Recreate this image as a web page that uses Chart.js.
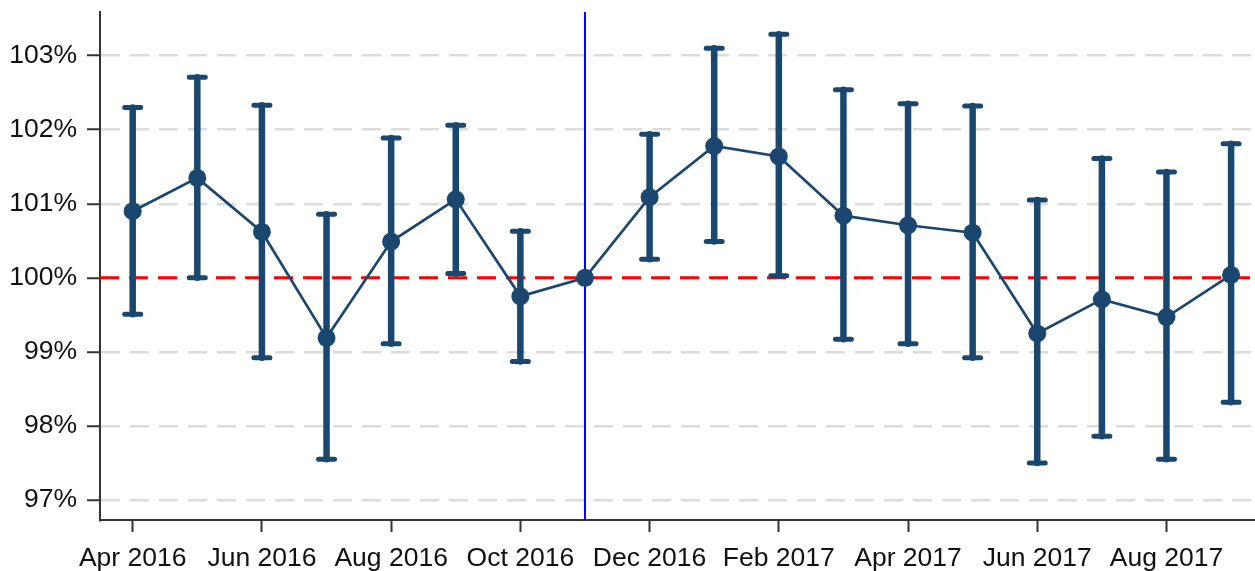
<!DOCTYPE html>
<html>
<head>
<meta charset="utf-8">
<script src="https://cdn.jsdelivr.net/npm/chart.js@4.4.0/dist/chart.umd.min.js"></script>
<style>
  html, body { margin: 0; padding: 0; background: #fff; overflow: hidden; }
  #wrap { width: 1255px; height: 571px; }
</style>
</head>
<body>
<div id="wrap"><canvas id="chart"></canvas></div>
<script>
// monthly ratio (%) with confidence interval
const months = [
  "Apr 2016", "May 2016", "Jun 2016", "Jul 2016", "Aug 2016", "Sep 2016",
  "Oct 2016", "Nov 2016", "Dec 2016", "Jan 2017", "Feb 2017", "Mar 2017",
  "Apr 2017", "May 2017", "Jun 2017", "Jul 2017", "Aug 2017", "Sep 2017",
];
const ratio = [100.90, 101.35, 100.62, 99.19, 100.49, 101.06, 99.75, 100.0, 101.09,
  101.78, 101.64, 100.84, 100.71, 100.61, 99.25, 99.71, 99.47, 100.04];
const upper = [102.30, 102.71, 102.33, 100.86, 101.89, 102.06, 100.63, null, 101.94,
  103.10, 103.29, 102.54, 102.35, 102.32, 101.05, 101.61, 101.43, 101.81];
const lower = [99.51, 100.0, 98.92, 97.55, 99.11, 100.06, 98.87, null, 100.25,
  100.49, 100.03, 99.17, 99.11, 98.92, 97.50, 97.86, 97.55, 98.32];
const yTicks = [97, 98, 99, 100, 101, 102, 103];
const refValue = 100;   // red dashed line
const breakIndex = 7;   // Nov 2016, blue line

const navy = "#1a476f";
const font = { family: "'Liberation Sans', Arial, sans-serif", size: 26.5 };

const markers = {
  id: "markers",
  beforeDatasetsDraw(chart) {
    const { ctx, chartArea: a, scales } = chart;
    const x = scales.x, y = scales.y;
    ctx.save();

    // 100% reference
    const yr = y.getPixelForValue(refValue);
    ctx.strokeStyle = "#ff0000";
    ctx.lineWidth = 3;
    ctx.setLineDash([19, 10]);
    ctx.beginPath();
    ctx.moveTo(a.left, yr);
    ctx.lineTo(a.right, yr);
    ctx.stroke();
    ctx.setLineDash([]);

    // vertical marker
    const xb = x.getPixelForValue(breakIndex);
    ctx.strokeStyle = "#0000ff";
    ctx.lineWidth = 2;
    ctx.beginPath();
    ctx.moveTo(xb, a.top);
    ctx.lineTo(xb, a.bottom);
    ctx.stroke();

    // error bars
    ctx.strokeStyle = navy;
    ctx.lineCap = "round";
    upper.forEach((u, i) => {
      if (u == null) return;
      const px = x.getPixelForValue(i);
      const top = y.getPixelForValue(u);
      const bot = y.getPixelForValue(lower[i]);
      ctx.lineWidth = 6.5;
      ctx.beginPath();
      ctx.moveTo(px, top);
      ctx.lineTo(px, bot);
      ctx.stroke();
      ctx.lineWidth = 5;
      ctx.beginPath();
      ctx.moveTo(px - 8, top);
      ctx.lineTo(px + 8, top);
      ctx.moveTo(px - 8, bot);
      ctx.lineTo(px + 8, bot);
      ctx.stroke();
    });
    ctx.restore();
  },
};

new Chart(document.getElementById("chart"), {
  type: "line",
  data: {
    datasets: [
      {
        data: ratio.map((v, i) => ({ x: i, y: v })),
        borderColor: navy,
        borderWidth: 2.7,
        pointRadius: 9,
        pointBackgroundColor: navy,
        pointBorderWidth: 0,
        tension: 0,
      },
    ],
  },
  options: {
    responsive: true,
    maintainAspectRatio: false,
    animation: false,
    layout: {
      autoPadding: false,
      padding: { top: 12, right: 0, left: 0, bottom: 0 },
    },
    plugins: {
      legend: { display: false },
      tooltip: { enabled: false },
    },
    scales: {
      x: {
        type: "linear",
        min: -0.506,
        max: 17.37,
        afterFit: (s) => {
          s.height = 51;
          s.paddingLeft = 0;
          s.paddingRight = 0;
        },
        ticks: {
          stepSize: 2,
          includeBounds: false,
          autoSkip: false,
          maxRotation: 0,
          padding: 11,
          color: "#111",
          font,
          callback: (v) => months[v] || "",
        },
        grid: {
          drawOnChartArea: false,
          tickLength: 12,
          tickColor: "#333",
          tickWidth: 2,
        },
        border: { color: "#333", width: 2 },
      },
      y: {
        min: 96.73,
        max: 103.59,
        afterFit: (s) => {
          s.width = 100;
          s.paddingTop = 0;
          s.paddingBottom = 0;
        },
        afterBuildTicks: (s) => { s.ticks = yTicks.map((v) => ({ value: v })); },
        ticks: {
          padding: 10,
          color: "#111",
          font,
          callback: (v) => v + "%",
        },
        grid: {
          color: (c) => (c.tick && c.tick.value === refValue ? "rgba(0,0,0,0)" : "#dcdcdc"),
          lineWidth: 2.5,
          tickLength: 13,
          tickColor: "#333",
          tickWidth: 2,
        },
        border: { color: "#333", width: 2, dash: [19, 10] },
      },
    },
  },
  plugins: [markers],
});
</script>
</body>
</html>
